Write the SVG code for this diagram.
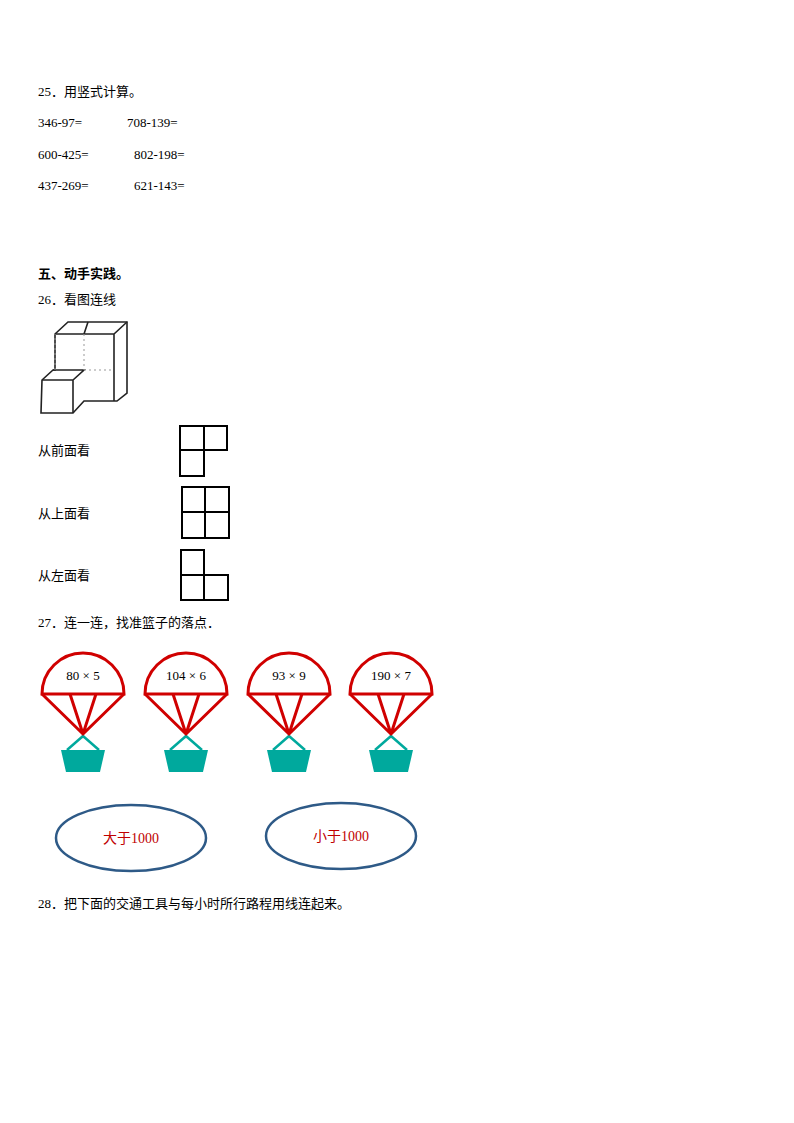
<svg xmlns="http://www.w3.org/2000/svg" width="794" height="1123" viewBox="0 0 794 1123">
<style>
.t{font-family:"Liberation Serif","Noto Sans CJK SC",serif;font-size:13px;fill:#000}
.c{font-family:"Noto Sans CJK SC",sans-serif;font-size:13px;fill:#000}
.m{font-family:"Liberation Serif",serif;font-size:13px;fill:#000}
.cp{fill:#fff;stroke:#d00000;stroke-width:3}
.cord{stroke:#d00000;stroke-width:3;fill:none}
.bk{fill:#00a99d}
.hd{stroke:#00a99d;stroke-width:2.5;fill:none}
.ov{fill:#fff;stroke:#2e5a87;stroke-width:2.5}
.g{fill:none;stroke:#000;stroke-width:2}
</style>
<rect width="794" height="1123" fill="#fff"/>
<text class="t" x="38" y="96">25．<tspan class="c">用竖式计算。</tspan></text>
<text class="t" x="38" y="127">346-97=</text><text class="t" x="127" y="127">708-139=</text>
<text class="t" x="38" y="159">600-425=</text><text class="t" x="134" y="159">802-198=</text>
<text class="t" x="38" y="190">437-269=</text><text class="t" x="134" y="190">621-143=</text>
<text class="c" x="38" y="278" font-weight="bold">五、动手实践。</text>
<text class="t" x="38" y="304">26．<tspan class="c">看图连线</tspan></text>
<g id="cube" fill="none" stroke="#222" stroke-width="1.6">
<path fill="#fff" d="M55,334 L68,322 L127,322 L127,393 L117,401 L84,401 L73,413 L41,413 L42,380 L53,370 L55,370 Z"/>
<path d="M55,334 H114 L127,322 M88,322 L84,334 M42,380 H73 L84,370 H53 M73,380 V413 M114,334 V401"/>
<path stroke="#999" stroke-width="1" stroke-dasharray="2,3" d="M84,334 V370 M84,370 H114 M55,370 V334"/>
</g>
<text class="c" x="38" y="455">从前面看</text>
<text class="c" x="38" y="518">从上面看</text>
<text class="c" x="38" y="580">从左面看</text>
<g id="v1"><path class="g" d="M180,426 H227 V450 H204 V476 H180 Z M204,426 V450 M180,450 H204"/></g>
<g id="v2"><path class="g" d="M182,487 H229 V538 H182 Z M205,487 V538 M182,512 H229"/></g>
<g id="v3"><path class="g" d="M181,550 H204 V575 H228 V600 H181 Z M204,575 V600 M181,575 H204"/></g>
<text class="t" x="38" y="627">27．<tspan class="c">连一连，找准篮子的落点．</tspan></text>
<defs>
<g id="para">
<path class="cp" d="M-41,54 A41,41 0 0 1 41,54 Z"/>
<path class="cord" d="M-41,54 L0,94 L41,54 M-13,54 L0,94 L13,54"/>
<path class="hd" d="M0,96 L-16,110 M0,96 L16,110"/>
<path class="bk" d="M-22,110 H22 L17,132 H-17 Z"/>
</g>
</defs>
<g id="p1"><use href="#para" x="83" y="640"/><text class="m" x="83" y="680" text-anchor="middle">80 × 5</text></g>
<g id="p2"><use href="#para" x="186" y="640"/><text class="m" x="186" y="680" text-anchor="middle">104 × 6</text></g>
<g id="p3"><use href="#para" x="289" y="640"/><text class="m" x="289" y="680" text-anchor="middle">93 × 9</text></g>
<g id="p4"><use href="#para" x="391" y="640"/><text class="m" x="391" y="680" text-anchor="middle">190 × 7</text></g>
<g id="o1"><ellipse class="ov" cx="131" cy="838" rx="75" ry="33"/><text x="131" y="843" text-anchor="middle" font-family="Liberation Serif,Noto Sans CJK SC,serif" font-size="14" fill="#c00000">大于1000</text></g>
<g id="o2"><ellipse class="ov" cx="341" cy="836" rx="75" ry="33"/><text x="341" y="841" text-anchor="middle" font-family="Liberation Serif,Noto Sans CJK SC,serif" font-size="14" fill="#c00000">小于1000</text></g>
<g id="connectors"/>
<text class="t" x="38" y="908">28．<tspan class="c">把下面的交通工具与每小时所行路程用线连起来。</tspan></text>
</svg>
